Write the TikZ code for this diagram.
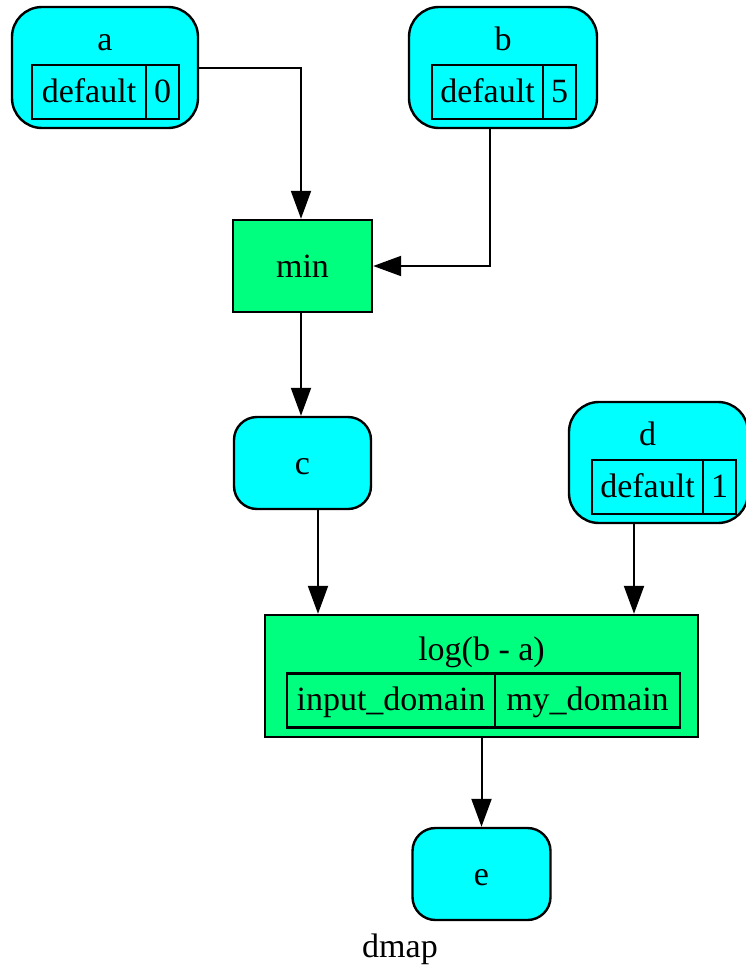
\documentclass[tikz,border=0pt]{standalone}
\usepackage{fontspec}
\setmainfont{Liberation Serif}
\usetikzlibrary{arrows.meta,positioning}
\definecolor{varcyan}{RGB}{0,255,255}
\definecolor{opgreen}{RGB}{0,255,127}

\begin{document}
\begin{tikzpicture}[x=1pt, y=-1pt,
  font=\fontsize{34}{40}\selectfont,
  var/.style={rectangle, rounded corners=#1, draw, line width=2.4pt,
              fill=varcyan, inner sep=0pt},
  var/.default=23pt,
  op/.style={rectangle, draw, line width=2.4pt, fill=opgreen, inner sep=0pt},
  cell/.style={rectangle, draw, line width=2.2pt, inner sep=0pt, outer sep=0pt,
               minimum height=54pt, text height=24pt, text depth=4pt},
  title/.style={anchor=base, inner sep=0pt},
  arr/.style={-{Triangle[length=28pt, width=20pt]}, line width=2pt}
]
  \useasboundingbox (0,0) rectangle (746,969);

  % input a
  \node[var=30pt, minimum width=186pt, minimum height=121pt](a) at (105,67.5){};
  \node[title](atitle) at (105,50){a};
  \node[cell, minimum width=114pt](adef) at (89,92){default};
  \node[cell, minimum width=33pt, right=0pt of adef](aval){0};

  % input b
  \node[var=30pt, minimum width=188pt, minimum height=121pt](b) at (503,67.5){};
  \node[title](btitle) at (503,50){b};
  \node[cell, minimum width=111pt](bdef) at (487.5,92){default};
  \node[cell, minimum width=33pt, right=0pt of bdef](bval){5};

  % min
  \node[op, minimum width=139pt, minimum height=92pt](min) at (302.5,266){};
  \node[title](mintitle) at (302.5,277){min};

  % c
  \node[var, minimum width=137pt, minimum height=92pt](c) at (302.5,463){};
  \node[title](ctitle) at (302.5,474){c};

  % input d
  \node[var=30pt, minimum width=179pt, minimum height=121pt](d) at (658.5,462.5){};
  \node[title](dtitle) at (647.5,445){d};
  \node[cell, minimum width=111pt](ddef) at (647.5,487){default};
  \node[cell, minimum width=33pt, right=0pt of ddef](dval){1};

  % log
  \node[op, minimum width=433pt, minimum height=122pt](log) at (481.5,676){};
  \node[title](logtitle) at (481.5,660){log(b - a)};
  \node[cell, minimum width=208pt](login) at (391,700.5){input\_domain};
  \node[cell, minimum width=185pt, right=0pt of login](logmy){my\_domain};

  % e
  \node[var, minimum width=138pt, minimum height=92pt](e) at (481.5,874){};
  \node[title](etitle) at (481.5,885){e};

  % graph label
  \node[title](dmap) at (400,957){dmap};

  % edges
  \draw[arr](a.east) -| ([xshift=-1.5pt]min.north);
  \draw[arr]([xshift=-13pt]b.south) |- (min.east);
  \draw[arr]([xshift=-1.5pt]min.south) -- ([xshift=-1.5pt]c.north);
  \draw[arr]([xshift=15.5pt]c.south) -- ([xshift=15.5pt]c.south |- log.north);
  \draw[arr]([xshift=-24.5pt]d.south) -- ([xshift=-24.5pt]d.south |- log.north);
  \draw[arr](log.south) -- (e.north);
\end{tikzpicture}
\end{document}
